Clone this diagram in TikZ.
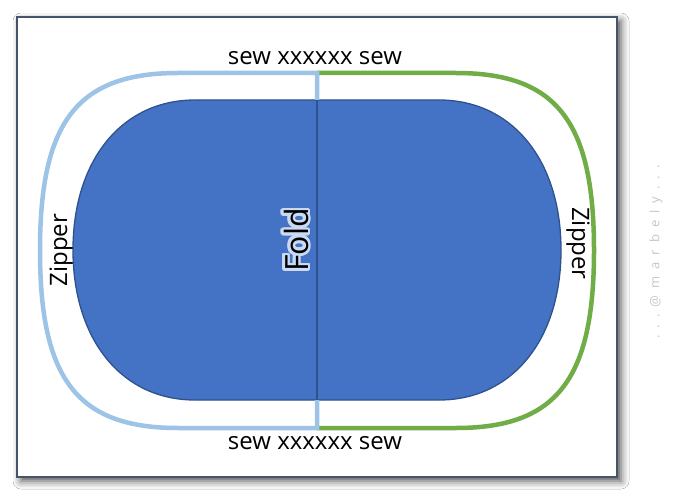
\documentclass[tikz,border=0pt]{standalone}
\usepackage{fontspec}
\setmainfont{Open Sans}
\usetikzlibrary{shadows.blur}
\definecolor{shapeblue}{HTML}{4472C4}
\definecolor{shapeedge}{HTML}{2F528F}
\definecolor{zipblue}{HTML}{9DC3E6}
\definecolor{zipgreen}{HTML}{70AD47}
\definecolor{frameedge}{HTML}{44546A}
\definecolor{glowc}{HTML}{C9DAF2}
\begin{document}
\begin{tikzpicture}[x=1pt,y=-1pt,
  framebox/.style={draw=frameedge,line width=2pt,fill=white,
    blur shadow={shadow xshift=4pt,shadow yshift=-4pt,shadow blur radius=8pt,shadow opacity=70}},
  pad/.style={fill=shapeblue,draw=shapeedge,line width=1.3pt},
  foldline/.style={draw=shapeedge,line width=1.5pt},
  zipleft/.style={draw=zipblue,line width=4.5pt,line join=miter},
  zipright/.style={draw=zipgreen,line width=4.5pt},
  lbl/.style={font=\fontsize{24}{28}\selectfont,inner sep=0pt,anchor=base,text=black},
  foldtxt/.style={font=\fontsize{32}{36}\selectfont,inner sep=0pt,anchor=base,rotate=90},
  wm/.style={font=\fontsize{13}{15}\selectfont,text=black!22,inner sep=0pt,rotate=90}
]
\useasboundingbox (0,0) rectangle (674,497);
\fill[white] (0,0) rectangle (674,497);
% frame
\path[framebox] (17,17) rectangle (617,477);
% blue pad
\path[pad] (195,100) -- (439,100)
  .. controls (512,100) and (561,160) .. (561,250)
  .. controls (561,340) and (512,400) .. (439,400)
  -- (195,400)
  .. controls (122,400) and (73,340) .. (73,250)
  .. controls (73,160) and (122,100) .. (195,100) -- cycle;
\coordinate (ftop) at (317,100);
\coordinate (fbot) at (317,400);
\coordinate (otop) at (317,73);
\coordinate (obot) at (317,428);
\draw[foldline] (ftop) -- (fbot);
% zipper outlines
\draw[zipright] (otop) -- (456,73)
  .. controls (557,73) and (594,122) .. (594,250.5)
  .. controls (594,379) and (557,428) .. (456,428) -- (obot);
\draw[zipleft] (ftop) -- (otop) -- (178,73)
  .. controls (77,73) and (40,122) .. (40,250.5)
  .. controls (40,379) and (77,428) .. (178,428) -- (obot) -- (fbot);
% labels
\node[lbl] (sewtop) at (315,65) {sew xxxxxx sew};
\node[lbl] (sewbot) at (315,449) {sew xxxxxx sew};
\node[lbl,rotate=90] (zipl) at (67,250) {Zipper};
\node[lbl,rotate=-90] (zipr) at (572,243.5) {Zipper};
\coordinate (cfold) at (308,240);
\foreach \a in {0,20,...,340}{
  \node[foldtxt,text=glowc] (glowa\a) at ([shift={(\a:2.8)}]cfold) {Fold};
  \node[foldtxt,text=glowc] (glowb\a) at ([shift={(\a:1.4)}]cfold) {Fold};
}
\node[foldtxt,text=black] (fold) at (cfold) {Fold};
% watermark
\node[wm] (wmark) at (656,252) {.\hspace{7pt}.\hspace{7pt}.\hspace{7pt}@\hspace{7pt}m\hspace{7pt}a\hspace{7pt}r\hspace{7pt}b\hspace{7pt}e\hspace{7pt}l\hspace{7pt}y\hspace{7pt}.\hspace{7pt}.\hspace{7pt}.};
\end{tikzpicture}
\end{document}
